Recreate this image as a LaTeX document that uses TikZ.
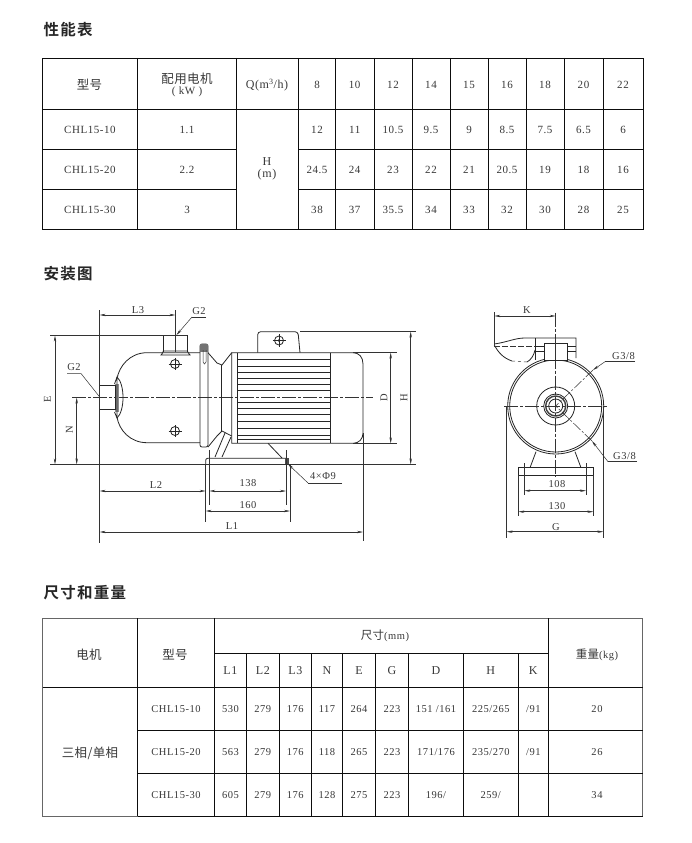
\documentclass[tikz,border=0pt]{standalone}
\usepackage{fontspec}
\usetikzlibrary{arrows.meta}
\setmainfont{Liberation Serif}[LetterSpace=5]
\newfontfamily\cjk{Noto Sans CJK SC}[LetterSpace=3]
\newfontfamily\cjktitle{Noto Sans CJK SC Bold}[LetterSpace=8]
\definecolor{ink}{gray}{0.22}
\definecolor{edge}{gray}{0.05}
\tikzset{
  x=1pt,y=-1pt,
  tx/.style={inner sep=0pt,text=ink,font=\fontsize{11}{11}\selectfont},
  lbl/.style={inner sep=0pt,text=ink,font=\fontsize{10.5}{10.5}\selectfont},
  zh/.style={inner sep=0pt,text=ink,font=\cjk\fontsize{12.5}{12.5}\selectfont},
  title/.style={inner sep=0pt,anchor=west,text=black!85,font=\cjktitle\fontsize{15.5}{15.5}\selectfont},
  rule/.style={line width=0.9pt,edge},
  frame/.style={line width=0.9pt,black!60},
  part/.style={line width=0.8pt,black!85},
  thinl/.style={line width=0.5pt,black!80},
  centre/.style={line width=0.5pt,black!80,dash pattern=on 14pt off 2pt on 3pt off 2pt},
  dimline/.style={line width=0.5pt,black!80,{Stealth[length=6pt,width=2.4pt]}-{Stealth[length=6pt,width=2.4pt]}},
  lead/.style={line width=0.5pt,black!80,-{Stealth[length=6pt,width=2.4pt]}},
}
% name, x1, y1, x2, y2 : a dimension line between two named coordinates
\newcommand{\dimto}[5]{\coordinate (#1a) at (#2,#3); \coordinate (#1b) at (#4,#5); \draw[dimline] (#1a) -- (#1b);}
\begin{document}
\begin{tikzpicture}
\useasboundingbox (0,0) rectangle (692,843);
\fill[white] (0,0) rectangle (692,843);

% ---------- titles
\node[title] (t1) at (43.5,30) {性能表};
\node[title] (t2) at (43.5,274) {安装图};
\node[title] (t3) at (43.5,593) {尺寸和重量};

% ---------- table 1
\draw[rule] (42.5,58) rectangle (643,229.5);
\foreach \c in {137.7,236.3,298.3,335.5,374,412,450,488,526,564,603}
  \draw[rule] (\c,58) -- (\c,229.5);
\draw[rule] (42.5,109.5) -- (643,109.5);
\foreach \r in {149.5,189.5} {
  \draw[rule] (42.5,\r) -- (236.3,\r);
  \draw[rule] (298.3,\r) -- (643,\r);
}
\node[zh] (h1) at (89.5,85) {型号};
\node[zh] (h2) at (187,78.5) {配用电机};
\node[tx] (h2b) at (187,92) {( kW )};
\node[tx,font=\fontsize{12}{12}\selectfont] (h3) at (267,85) {Q(m\textsuperscript{3}/h)};
\foreach \v/\c [count=\i] in {8/317,10/354.7,12/393,14/431,15/469,16/507,18/545,20/583.5,22/623}
  \node[tx] (q\i) at (\c,85) {\v};
\node[tx] (m1) at (90,130) {CHL15-10};
\node[tx] (m2) at (90,170) {CHL15-20};
\node[tx] (m3) at (90,210) {CHL15-30};
\node[tx] (p1) at (187,130) {1.1};
\node[tx] (p2) at (187,170) {2.2};
\node[tx] (p3) at (187,210) {3};
\node[tx,font=\fontsize{12}{12}\selectfont] (hh) at (267,162) {H};
\node[tx,font=\fontsize{12}{12}\selectfont] (hm) at (267,175) {(m)};
\foreach \v/\c [count=\i] in {12/317,11/354.7,10.5/393,9.5/431,9/469,8.5/507,7.5/545,6.5/583.5,6/623}
  \node[tx] (ra\i) at (\c,130) {\v};
\foreach \v/\c [count=\i] in {24.5/317,24/354.7,23/393,22/431,21/469,20.5/507,19/545,18/583.5,16/623}
  \node[tx] (rb\i) at (\c,170) {\v};
\foreach \v/\c [count=\i] in {38/317,37/354.7,35.5/393,34/431,33/469,32/507,30/545,28/583.5,25/623}
  \node[tx] (rc\i) at (\c,210) {\v};

% ---------- table 2
\draw[frame] (42.5,618.3) rectangle (642.7,816.3);
\foreach \c in {137.7,214.4,548.3}
  \draw[rule] (\c,618.3) -- (\c,816.3);
\foreach \c in {246.3,279.3,311.3,342.7,375.3,408.7,463.3,518.3}
  \draw[rule] (\c,653.7) -- (\c,816.3);
\draw[rule] (214.4,653.7) -- (548.3,653.7);
\draw[rule] (42.5,687.3) -- (642.7,687.3);
\draw[rule] (137.7,730.3) -- (642.7,730.3);
\draw[rule] (137.7,773.3) -- (642.7,773.3);
\draw[rule] (137.7,816.3) -- (642.7,816.3);
\node[zh] (k1) at (89,655) {电机};
\node[zh] (k2) at (175,655) {型号};
\node[inner sep=0pt,text=ink] (k3) at (385,636) {{\cjk\fontsize{11.5}{11.5}\selectfont 尺寸}\fontsize{10.5}{10.5}\selectfont(mm)};
\node[inner sep=0pt,text=ink] (k4) at (597,655) {{\cjk\fontsize{11.5}{11.5}\selectfont 重量}\fontsize{10.5}{10.5}\selectfont(kg)};
\node[zh] (k5) at (90,753) {三相/单相};
\foreach \v/\c [count=\i] in {L1/230.4,L2/262.8,L3/295.3,N/327,E/359,G/392,D/436,H/490.8,K/533.3}
  \node[tx,font=\fontsize{12}{12}\selectfont] (s\i) at (\c,671) {\v};
\foreach \v/\c [count=\i] in {CHL15-10/176,530/230.4,279/262.8,176/295.3,117/327,264/359,223/392,{151 /161}/436,{225/265}/490.8,{/91}/533.3,20/597}
  \node[lbl] (ua\i) at (\c,709) {\v};
\foreach \v/\c [count=\i] in {CHL15-20/176,563/230.4,279/262.8,176/295.3,118/327,265/359,223/392,{171/176}/436,{235/270}/490.8,{/91}/533.3,26/597}
  \node[lbl] (ub\i) at (\c,752) {\v};
\foreach \v/\c [count=\i] in {CHL15-30/176,605/230.4,279/262.8,176/295.3,128/327,275/359,223/392,{196/}/436,{259/}/490.8,34/597}
  \node[lbl] (uc\i) at (\c,795) {\v};

% ---------- side view : pump body
\coordinate (cl1) at (72,397.7); \coordinate (cl2) at (373,397.7);
\draw[centre] (cl1) -- (cl2);
\draw[part] (200,352.7) -- (147,352.7) .. controls (130,352.7) and (119,366) .. (117,379);
\draw[part] (200,442.7) -- (147,442.7) .. controls (130,442.7) and (119,430) .. (117,417);
\draw[part] (117,377) .. controls (125,384) and (125,411) .. (117,418);
\fill[black!45] (114.5,384) rectangle (118.5,412);
\draw[part] (99.7,385) rectangle (115,409);
\draw[part] (114.5,384) -- (117,377) -- (117,418) -- (114.5,412);
% top port
\draw[part] (163.3,352) -- (163.3,335.7) -- (187.3,335.7) -- (187.3,352);
\draw[part] (161,355) .. controls (163,353) and (163,352) .. (163.3,351) -- (187.3,351) .. controls (188,352) and (188,353) .. (190,355) -- cycle;
% plugs
\foreach \y/\n in {364/pa,431/pb} {
  \coordinate (\n) at (175,\y);
  \draw[part] (\n) circle (4.5);
  \draw[part] (168.5,\y) -- (181.5,\y);
  \draw[part] (175,\y-6) -- (175,\y+6);
}
% clamp
\draw[part,rounded corners=2pt] (200,344) -- (200,447) -- (208,447) -- (208,344) -- cycle;
\fill[black!55] (200,344) rectangle (208,352);
\draw[thinl] (203,350) -- (203,362) -- (204.5,364) -- (206,362) -- (206,350);
% bell
\draw[part] (208,352.7) -- (217,363) -- (222,365) -- (231.7,352.7);
\draw[part] (208,447) -- (217,436) -- (222,431) -- (231.7,436);
\draw[part] (221.7,365) -- (221.7,431);
% motor
\draw[part] (231.7,352.7) -- (353,352.7) .. controls (359,352.7) and (363,357) .. (363,364)
  -- (363,433) .. controls (363,439) and (359,443.3) .. (353,443.3) -- (231.7,443.3) -- cycle;
\draw[part] (237.3,352.7) -- (237.3,443.3);
\draw[part] (330,352.7) -- (330,443.3);
\foreach \y in {359.5,366,372.5,378.5,384,390,402,408,414.5,421,428,435,439.5}
  \draw[line width=0.9pt,black!85] (237.3,\y) -- (330,\y);
% terminal box
\draw[part,rounded corners=3pt] (257.7,352.7) -- (257.7,331.7) -- (298,331.7) -- (300,352.7);
\coordinate (tb) at (279,340.5);
\draw[part] (tb) circle (4.5);
\draw[part] (272.5,340.5) -- (285.5,340.5);
\draw[part] (279,334) -- (279,347);
\fill[black!85] (tb) circle (1.5);
% foot
\draw[part] (225,433) -- (215,457);
\draw[part] (231,437) -- (222,457);
\draw[part] (268,443.3) -- (282,458);
\draw[part,rounded corners=2pt] (205.7,464.3) -- (205.7,458.3) -- (288,458.3) -- (288,464.3);
\fill[black!70] (285,458) rectangle (289,464);

% ---------- side view : extension lines
\draw[thinl] (99.7,310) -- (99.7,543);
\draw[thinl] (175.3,310) -- (175.3,352);
\draw[thinl] (50,335.7) -- (187.3,335.7);
\draw[thinl] (50,464.3) -- (416,464.3);
\draw[thinl] (300,331.7) -- (416,331.7);
\draw[thinl] (353,352.7) -- (397,352.7);
\draw[thinl] (353,443.3) -- (397,443.3);
\draw[thinl] (209.3,450) -- (209.3,505);
\draw[thinl] (286,450) -- (286,505);
\draw[thinl] (205.7,464) -- (205.7,522);
\draw[thinl] (290,464) -- (290,522);
\draw[thinl] (363,433) -- (363,541);

% ---------- side view : dimensions
\dimto{dL3}{99.7}{315}{175.3}{315}
\node[lbl] (lL3) at (138,310) {L3};
\dimto{dE}{55}{335.7}{55}{464.3}
\node[lbl,rotate=90] (lE) at (47.5,399) {E};
\dimto{dN}{76.7}{397.7}{76.7}{464.3}
\node[lbl,rotate=90] (lN) at (69.5,430) {N};
\dimto{dD}{390.7}{352.7}{390.7}{443.3}
\node[lbl,rotate=90] (lD) at (384,397.7) {D};
\dimto{dH}{410.7}{331.7}{410.7}{464.3}
\node[lbl,rotate=90] (lH) at (404,397.7) {H};
\dimto{dLt}{99.7}{491}{205.7}{491}
\node[lbl] (lLt) at (156,485) {L2};
\dimto{dA}{209.3}{491}{286}{491}
\node[lbl] (lA) at (248,483.5) {138};
\dimto{dB}{205.7}{511}{290}{511}
\node[lbl] (lB) at (248,505) {160};
\dimto{dLo}{99.7}{532}{363}{532}
\node[lbl] (lLo) at (232,526) {L1};

% ---------- side view : leaders
\node[lbl] (g2a) at (199,311) {G2};
\coordinate (g2au) at (192,317); \coordinate (g2ae) at (206,317); \coordinate (g2at) at (176.5,335);
\draw[thinl] (g2ae) -- (g2au);
\draw[lead] (g2au) -- (g2at);
\node[lbl] (g2b) at (74,367.5) {G2};
\coordinate (g2bu) at (67,373.5); \coordinate (g2be) at (81,373.5); \coordinate (g2bt) at (99.7,397);
\draw[thinl] (g2bu) -- (g2be) -- (g2bt);
\node[lbl] (hole) at (323,476) {4×Φ9};
\coordinate (hs) at (342,483); \coordinate (hk) at (308,483); \coordinate (ht) at (288,464);
\draw[thinl] (hs) -- (hk);
\draw[lead] (hk) -- (ht);

% ---------- end view
\coordinate (cv) at (555.7,406);
\draw[part] (cv) circle (48);
\draw[part] (cv) circle (46);
\draw[part] (cv) circle (19);
\draw[part] (cv) circle (12);
\draw[line width=1.4pt,black!75] (cv) circle (10);
\draw[part] (cv) circle (7);
\draw[centre] (555.7,312.7) -- (555.7,476.7);
\draw[centre] (504,406) -- (607.7,406);
% top of end view
\draw[part] (494.3,344) .. controls (508,342) and (515,338) .. (525,338) -- (576,338) -- (576,358);
\draw[part] (535,338) -- (535,360);
\draw[part] (494.3,345) .. controls (498,352) and (503,358) .. (512,361);
\draw[thinl,dashed] (512,361) -- (527,362);
\draw[part] (527,362) .. controls (531,360) and (534,355) .. (535,350);
\draw[thinl,dash pattern=on 6pt off 2pt] (494.3,346) -- (535,346);
\draw[part] (535,346) -- (576,346);
\draw[part] (535,351) -- (576,351);
\draw[part,fill=white] (544.3,343) rectangle (567.7,360);
\draw[thinl] (555.7,338) -- (555.7,360);
% feet
\draw[part] (536,451.7) -- (530,467.7);
\draw[part] (575,451.7) -- (581,467.7);
\draw[part] (518.3,467.7) rectangle (593.3,475);
% extension
\draw[thinl] (494.3,312) -- (494.3,345);
\draw[thinl] (524.3,463) -- (524.3,495);
\draw[thinl] (586,463) -- (586,495);
\draw[thinl] (518.3,475) -- (518.3,516);
\draw[thinl] (593.3,475) -- (593.3,516);
\draw[thinl] (506.7,406) -- (506.7,538);
\draw[thinl] (603.3,406) -- (603.3,538);
% dimensions
\dimto{dK}{494.3}{316}{555.7}{316}
\node[lbl] (lK) at (527,310) {K};
\dimto{dC}{524.3}{490.7}{586}{490.7}
\node[lbl] (lC) at (557,484) {108};
\dimto{dF}{518.3}{511.7}{593.3}{511.7}
\node[lbl] (lF) at (557,506) {130};
\dimto{dG}{506.7}{531.7}{603.3}{531.7}
\node[lbl] (lG) at (556,527) {G};
% leaders
\node[lbl] (g3a) at (623.5,356) {G3/8};
\coordinate (g3as) at (635,361.7); \coordinate (g3ak) at (605,361.7); \coordinate (g3at) at (593,370);
\draw[thinl] (g3as) -- (g3ak);
\draw[lead] (g3ak) -- (g3at);
\draw[thinl,dash pattern=on 10pt off 2pt on 2pt off 2pt] (g3at) -- (cv);
\node[lbl] (g3b) at (624.5,456) {G3/8};
\coordinate (g3bs) at (637,461.7); \coordinate (g3bk) at (608,461.7); \coordinate (g3bt) at (592,441);
\draw[thinl] (g3bs) -- (g3bk);
\draw[lead] (g3bk) -- (g3bt);
\draw[thinl,dash pattern=on 10pt off 2pt on 2pt off 2pt] (g3bt) -- (cv);
\end{tikzpicture}
\end{document}
